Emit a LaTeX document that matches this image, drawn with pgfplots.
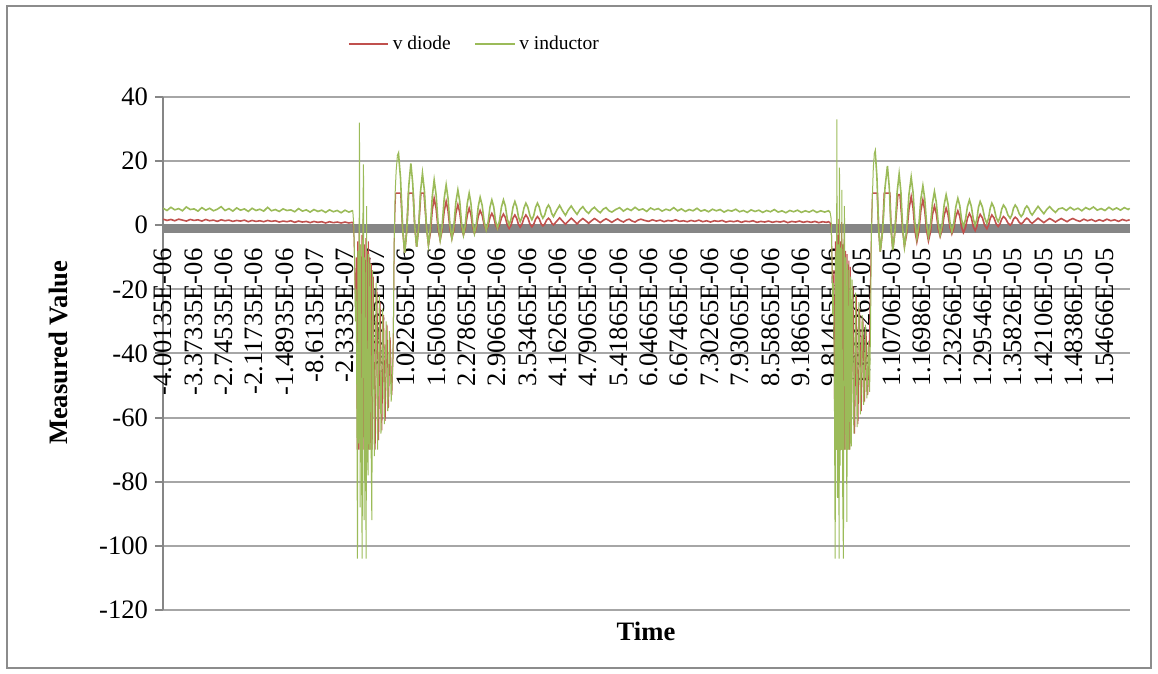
\documentclass[border=0pt]{standalone}
\usepackage{fontspec}
\setmainfont{Liberation Serif}
\usepackage{pgfplots}
\pgfplotsset{compat=1.18}
\definecolor{vred}{HTML}{C0504D}
\definecolor{vgreen}{HTML}{9BBB59}
\definecolor{gridgray}{HTML}{A6A6A6}
\definecolor{axisgray}{HTML}{868686}
\definecolor{framegray}{HTML}{8C8C8C}
\begin{document}
\begin{tikzpicture}
\path[use as bounding box] (0pt,0pt) rectangle (579pt,337pt);
\draw[framegray, line width=1pt] (3.5pt,3pt) rectangle (575.5pt,334pt);
\begin{axis}[
  at={(81.5pt,32pt)}, anchor=south west,
  scale only axis, width=483.5pt, height=256.5pt,
  xmin=-4.0034, xmax=15.9967, ymin=-120, ymax=40,
  axis x line=middle, axis y line=left,
  axis line style={-, draw=axisgray, line width=1pt},
  ytick={-120,-100,-80,-60,-40,-20,0,20,40},
  ymajorgrids, grid style={gridgray, line width=1pt},
  tick align=outside, major tick length=4pt,
  ytick style={axisgray, line width=1pt},
  xtick style={draw=none},
  xtick={-4.00135,-3.37335,-2.74535,-2.11735,-1.48935,-0.86135,-0.23335,0.39465,1.02265,1.65065,2.27865,2.90665,3.53465,4.16265,4.79065,5.41865,6.04665,6.67465,7.30265,7.93065,8.55865,9.18665,9.81465,10.44265,11.07065,11.69865,12.32665,12.95465,13.58265,14.21065,14.83865,15.46665},
  xticklabels={-4.00135E-06,-3.37335E-06,-2.74535E-06,-2.11735E-06,-1.48935E-06,-8.6135E-07,-2.3335E-07,3.9465E-07,1.02265E-06,1.65065E-06,2.27865E-06,2.90665E-06,3.53465E-06,4.16265E-06,4.79065E-06,5.41865E-06,6.04665E-06,6.67465E-06,7.30265E-06,7.93065E-06,8.55865E-06,9.18665E-06,9.81465E-06,1.04426E-05,1.10706E-05,1.16986E-05,1.23266E-05,1.29546E-05,1.35826E-05,1.42106E-05,1.48386E-05,1.54666E-05},
  xticklabel shift=7.5pt,
  xticklabel style={rotate=90, anchor=east, inner sep=0pt, font=\fontsize{13.3}{16}\selectfont},
  yticklabel style={font=\fontsize{13.3}{16}\selectfont},
  /pgf/number format/assume math mode=true,
  xlabel={Time}, ylabel={Measured Value},
  xlabel style={at={(axis description cs:0.4995,-0.0409)}, anchor=center, font=\bfseries\fontsize{13.3}{16}\selectfont},
  ylabel style={at={(axis description cs:-0.1086,0.501)}, anchor=center, font=\bfseries\fontsize{13.3}{16}\selectfont},
  legend style={at={(axis description cs:0.3232,1.1033)}, anchor=center, draw=none, fill=none, legend columns=2, font=\fontsize{9.75}{12}\selectfont, /tikz/every even column/.append style={column sep=10pt}},
]
\fill[axisgray] (axis cs:-4.0034,0.3) rectangle (axis cs:15.9967,-2.3);
\addlegendimage{legend image code/.code={\draw[vred, line width=0.8pt] (0pt,0pt) -- (19.5pt,0pt);}}
\addlegendentry{v diode}
\addlegendimage{legend image code/.code={\draw[vgreen, line width=0.8pt] (0pt,0pt) -- (19.5pt,0pt);}}
\addlegendentry{v inductor}
% ---------------- v diode ----------------
\addplot[vred, line width=0.8pt, forget plot] coordinates {
(-4.00,1.9) (-3.92,1.5) (-3.84,1.8) (-3.76,1.4) (-3.68,1.9) (-3.60,1.6) (-3.52,1.3) (-3.44,1.8) (-3.36,1.5) (-3.28,1.7)
(-3.20,1.3) (-3.12,1.8) (-3.04,1.4) (-2.96,1.6) (-2.88,1.2) (-2.80,1.7) (-2.72,1.4) (-2.64,1.6) (-2.56,1.2) (-2.48,1.5)
(-2.40,1.3) (-2.32,1.6) (-2.24,1.1) (-2.16,1.5) (-2.08,1.2) (-2.00,1.4) (-1.92,1.1) (-1.84,1.5) (-1.76,1.2) (-1.68,1.4)
(-1.60,1.0) (-1.52,1.3) (-1.44,1.1) (-1.36,1.4) (-1.28,0.9) (-1.20,1.3) (-1.12,1.0) (-1.04,1.2) (-0.96,0.8) (-0.88,1.2)
(-0.80,0.9) (-0.72,1.1) (-0.64,0.7) (-0.56,1.1) (-0.48,0.8) (-0.40,1.0) (-0.32,0.7) (-0.24,1.0) (-0.16,0.7) (-0.09,0.9)
(-0.077,0.9)
};
\addplot[vred, line width=0.5pt, forget plot] coordinates {
(-0.077,0.9) (-0.054,-3) (-0.035,-15) (-0.019,-28) (-0.002,-10) (0.012,-70) (0.023,-5) (0.037,-70) (0.054,-2) (0.068,-70)
(0.081,-8) (0.095,-70) (0.110,-3) (0.122,-70) (0.136,2) (0.151,-70) (0.163,-6) (0.178,-70) (0.192,-4) (0.205,-70)
(0.219,-8) (0.232,-70) (0.246,-5) (0.261,-70) (0.277,-10) (0.294,-70) (0.308,-12) (0.323,-70) (0.347,-16) (0.385,-70)
(0.422,-20) (0.457,-67) (0.488,-24) (0.523,-64) (0.558,-28) (0.592,-61) (0.629,-31) (0.660,-57) (0.695,-35) (0.730,-53)
(0.757,-40) (0.778,-6) (0.798,6) (0.811,10)
};
\addplot[vred, line width=0.8pt, forget plot] coordinates {
(0.811,10)
(0.915,10) (0.952,-0.8) (0.995,-8.6) (1.038,-1.6) (1.075,10) (1.170,10) (1.203,-0.2) (1.243,-6.7) (1.283,-1.0) (1.330,10)
(1.395,10) (1.446,-0.5) (1.487,-6.1) (1.526,-2.5) (1.566,4.8) (1.605,8.4) (1.646,5.2) (1.688,-1.4) (1.729,-4.6) (1.770,-1.6)
(1.812,4.4) (1.853,7.4) (1.892,4.5) (1.932,-1.2) (1.971,-4.1) (2.012,-1.5) (2.054,3.8) (2.095,6.4) (2.134,4.0) (2.172,-0.6)
(2.211,-3.0) (2.250,-0.9) (2.290,3.2) (2.329,5.3) (2.365,3.4) (2.402,-0.6) (2.438,-2.5) (2.477,-0.7) (2.517,2.8) (2.556,4.6)
(2.598,3.1) (2.640,0.0) (2.681,-1.5) (2.720,-0.2) (2.759,2.4) (2.798,3.7) (2.837,2.5) (2.875,0.0) (2.914,-1.2) (2.955,0.0)
(2.997,2.3) (3.038,3.5) (3.077,2.4) (3.117,0.1) (3.156,-1.0) (3.195,0.0) (3.235,2.2) (3.274,3.2) (3.311,2.2) (3.347,0.3)
(3.384,-0.6) (3.423,0.4) (3.463,2.2) (3.502,3.2) (3.543,2.3) (3.585,0.4) (3.626,-0.5) (3.664,0.3) (3.703,1.9) (3.741,2.7)
(3.778,2.0) (3.816,0.5) (3.853,-0.2) (3.892,0.4) (3.930,1.6) (3.969,2.2) (4.003,1.7) (4.038,0.6) (4.072,0.1) (4.136,1.2)
(4.20,2.3) (4.26,1.3) (4.32,0.3) (4.38,1.3) (4.44,2.2) (4.50,1.4) (4.56,0.4) (4.62,1.4) (4.68,2.1) (4.74,1.4)
(4.80,0.6) (4.86,1.4) (4.92,2.1) (4.98,1.5) (5.04,0.8) (5.10,1.5) (5.16,2.0) (5.22,1.5) (5.28,0.9) (5.34,1.5)
(5.40,2.0) (5.46,1.4) (5.52,1.0) (5.58,1.6) (5.64,1.9) (5.70,1.3) (5.76,1.0) (5.82,1.6) (5.88,1.9)
(5.96,1.5) (6.04,1.2) (6.12,1.7) (6.20,1.3) (6.28,1.6) (6.36,1.1) (6.44,1.5) (6.52,1.3) (6.60,1.7) (6.68,1.2)
(6.76,1.4) (6.84,1.1) (6.92,1.5) (7.00,1.2) (7.08,1.6) (7.16,1.1) (7.24,1.4) (7.32,1.0) (7.40,1.4) (7.48,1.2)
(7.56,1.5) (7.64,1.0) (7.72,1.3) (7.80,1.1) (7.88,1.4) (7.96,0.9) (8.04,1.3) (8.12,1.1) (8.20,1.4) (8.28,0.9)
(8.36,1.2) (8.44,1.0) (8.52,1.3) (8.60,0.9) (8.68,1.2) (8.76,1.0) (8.84,1.3) (8.92,0.8) (9.00,1.2) (9.08,1.0)
(9.16,1.3) (9.24,0.9) (9.32,1.2) (9.40,0.9) (9.48,1.2) (9.56,0.8) (9.64,1.1) (9.72,0.9) (9.76,1.1) (9.799,0.7)
};
\addplot[vred, line width=0.5pt, forget plot] coordinates {
(9.799,0.7) (9.820,-1) (9.836,-12) (9.853,-26) (9.872,-14) (9.890,-70) (9.905,-5) (9.918,-70) (9.930,4) (9.940,-70)
(9.953,-3) (9.965,-70) (9.978,2) (9.994,-70) (10.009,-5) (10.021,-70) (10.034,1) (10.046,-70) (10.060,-6) (10.075,-70)
(10.087,-2) (10.100,-70) (10.114,-8) (10.131,-70) (10.147,-9) (10.164,-70) (10.180,-11) (10.197,-70) (10.213,-13) (10.230,-68)
(10.267,-19) (10.302,-65) (10.337,-22) (10.370,-62) (10.405,-26) (10.440,-58) (10.473,-29) (10.506,-55) (10.539,-33) (10.572,-53)
(10.601,-40) (10.638,-10) (10.655,2) (10.669,10)
};
\addplot[vred, line width=0.8pt, forget plot] coordinates {
(10.669,10) (10.770,10)
(10.796,-0.4) (10.831,-8.2) (10.881,-1.5) (10.915,10) (11.030,10) (11.055,-1.2) (11.092,-7.7) (11.135,-1.8) (11.195,9.5) (11.240,9.5)
(11.295,-1.5) (11.332,-6.5) (11.378,-2.7) (11.425,5.0) (11.471,8.9) (11.510,5.4) (11.549,-1.7) (11.588,-5.2) (11.630,-1.9) (11.671,4.6)
(11.713,7.9) (11.751,4.7) (11.790,-1.7) (11.828,-4.9) (11.869,-2.2) (11.911,3.3) (11.952,6.0) (11.991,3.6) (12.031,-1.1) (12.070,-3.5)
(12.111,-1.3) (12.153,3.1) (12.194,5.3) (12.233,3.3) (12.273,-0.7) (12.312,-2.7) (12.353,-0.9) (12.395,2.7) (12.436,4.5) (12.475,2.8)
(12.513,-0.6) (12.552,-2.3) (12.593,-0.8) (12.635,2.2) (12.676,3.7) (12.715,2.4) (12.755,-0.4) (12.794,-1.7) (12.829,-0.4) (12.863,2.1)
(12.898,3.4) (12.944,2.3) (12.990,0.0) (13.036,-1.1) (13.071,0.0) (13.105,2.1) (13.140,3.2) (13.183,2.3) (13.227,0.5) (13.270,-0.4)
(13.307,0.4) (13.343,1.9) (13.380,2.7) (13.426,2.0) (13.472,0.7) (13.518,0.0) (13.553,0.6) (13.587,1.9) (13.622,2.5) (13.663,2.0)
(13.705,0.9) (13.746,0.4) (13.785,0.9) (13.824,1.7) (13.863,2.2) (13.900,1.8) (13.936,1.0) (13.973,0.6) (14.035,1.4) (14.095,2.2)
(14.155,1.5) (14.215,0.8) (14.275,1.5) (14.335,2.1) (14.395,1.6) (14.455,1.0) (14.515,1.6) (14.575,2.1) (14.635,1.6) (14.695,1.1)
(14.755,1.7) (14.815,2.1) (14.88,1.6) (14.96,1.2) (15.04,1.9) (15.12,1.4) (15.20,1.8) (15.28,1.2) (15.36,1.7) (15.44,1.3)
(15.52,1.9) (15.60,1.4) (15.68,1.7) (15.76,1.2) (15.84,1.8) (15.92,1.4) (15.99,1.7)
};
% ---------------- v inductor ----------------
\addplot[vgreen, line width=0.8pt, forget plot] coordinates {
(-4.00,5.3) (-3.92,4.6) (-3.84,5.6) (-3.76,4.8) (-3.68,5.2) (-3.60,4.5) (-3.52,5.7) (-3.44,4.9) (-3.36,5.1) (-3.28,4.4)
(-3.20,5.5) (-3.12,4.7) (-3.04,5.3) (-2.96,4.5) (-2.88,5.0) (-2.80,5.8) (-2.72,4.6) (-2.64,5.2) (-2.56,4.4) (-2.48,5.4)
(-2.40,4.7) (-2.32,5.1) (-2.24,4.3) (-2.16,5.3) (-2.08,4.6) (-2.00,5.0) (-1.92,4.4) (-1.84,5.6) (-1.76,4.5) (-1.68,4.9)
(-1.60,4.3) (-1.52,5.1) (-1.44,4.6) (-1.36,4.8) (-1.28,4.2) (-1.20,5.2) (-1.12,4.4) (-1.04,4.8) (-0.96,4.1) (-0.88,4.9)
(-0.80,4.3) (-0.72,4.7) (-0.64,4.0) (-0.56,4.8) (-0.48,4.2) (-0.40,4.6) (-0.32,3.9) (-0.24,4.7) (-0.16,4.1) (-0.09,4.5)
(-0.077,4.3)
};
\addplot[vgreen, line width=0.5pt, forget plot] coordinates {
(-0.077,4.3) (-0.058,0) (-0.039,-12) (-0.023,-30) (-0.008,-20) (0.006,-55) (0.019,-104) (0.029,-8) (0.045,-68) (0.060,32)
(0.074,-88) (0.087,-6) (0.101,-70) (0.116,-104) (0.128,-4) (0.143,19) (0.157,-92) (0.170,-10) (0.184,-69) (0.199,-104)
(0.207,6) (0.223,-70) (0.240,-78) (0.252,-9) (0.269,-70) (0.285,-12) (0.302,-70) (0.316,-92) (0.333,-14) (0.368,-72)
(0.405,-18) (0.436,-70) (0.472,-22) (0.505,-65) (0.540,-26) (0.575,-62) (0.612,-30) (0.645,-58) (0.680,-33) (0.716,-55)
(0.747,-44) (0.763,-30) (0.778,-5) (0.798,10) (0.819,17) (0.844,21.5)
};
\addplot[vgreen, line width=0.8pt, forget plot] coordinates {
(0.844,21.5)
(0.867,22.4) (0.910,14.6) (0.952,-0.8) (0.995,-8.6) (1.038,-1.6) (1.080,12.3) (1.123,19.3) (1.163,12.8) (1.203,-0.2) (1.243,-6.7)
(1.283,-1.0) (1.323,10.5) (1.363,16.2) (1.404,10.6) (1.446,-0.5) (1.487,-6.1) (1.526,-1.0) (1.566,9.0) (1.605,14.1) (1.646,9.4)
(1.688,0.1) (1.729,-4.6) (1.770,-0.3) (1.812,8.3) (1.853,12.6) (1.892,8.4) (1.932,0.1) (1.971,-4.1) (2.012,-0.3) (2.054,7.2)
(2.095,11.0) (2.134,7.5) (2.172,0.5) (2.211,-3.0) (2.250,0.3) (2.290,6.8) (2.329,10.0) (2.365,6.9) (2.402,0.6) (2.438,-2.5)
(2.477,0.3) (2.517,5.9) (2.556,8.7) (2.598,6.2) (2.640,1.0) (2.681,-1.5) (2.720,0.9) (2.759,5.6) (2.798,7.9) (2.837,5.7)
(2.875,1.3) (2.914,-0.9) (2.955,1.3) (2.997,5.7) (3.038,7.9) (3.077,6.0) (3.117,2.0) (3.156,0.1) (3.195,1.9) (3.235,5.6)
(3.274,7.4) (3.311,5.8) (3.347,2.7) (3.384,1.1) (3.423,2.5) (3.463,5.4) (3.502,6.9) (3.543,5.6) (3.585,3.0) (3.626,1.7)
(3.664,3.0) (3.703,5.6) (3.741,6.9) (3.778,5.7) (3.816,3.4) (3.853,2.2) (3.892,3.2) (3.930,5.3) (3.969,6.3) (4.003,5.4)
(4.038,3.6) (4.072,2.7) (4.136,4.6) (4.20,6.2) (4.26,4.5) (4.32,3.1) (4.38,4.8) (4.44,6.0) (4.50,4.6) (4.56,3.4)
(4.62,4.9) (4.68,5.8) (4.74,4.5) (4.80,3.7) (4.86,4.9) (4.92,5.6) (4.98,4.6) (5.04,3.9) (5.10,5.0) (5.16,5.5)
(5.22,4.5) (5.28,4.1)
(5.36,4.9) (5.44,5.5) (5.52,4.4) (5.60,5.2) (5.68,4.6) (5.76,5.6) (5.84,4.7) (5.92,5.1) (6.00,4.3) (6.08,5.4)
(6.16,4.8) (6.24,5.2) (6.32,4.4) (6.40,5.0) (6.48,4.6) (6.56,5.5) (6.64,4.5) (6.72,5.1) (6.80,4.3) (6.88,4.9)
(6.96,4.5) (7.04,5.3) (7.12,4.4) (7.20,4.8) (7.28,4.2) (7.36,5.0) (7.44,4.5) (7.52,4.9) (7.60,4.1) (7.68,4.7)
(7.76,4.4) (7.84,5.0) (7.92,4.2) (8.00,4.6) (8.08,4.0) (8.16,4.8) (8.24,4.3) (8.32,4.7) (8.40,4.0) (8.48,4.6)
(8.56,4.2) (8.64,4.9) (8.72,4.1) (8.80,4.5) (8.88,3.9) (8.96,4.6) (9.04,4.2) (9.12,4.7) (9.20,4.0) (9.28,4.5)
(9.36,4.1) (9.44,4.7) (9.52,4.0) (9.60,4.5) (9.68,4.1) (9.76,4.5) (9.795,4.0)
};
\addplot[vgreen, line width=0.5pt, forget plot] coordinates {
(9.795,4.0) (9.816,2) (9.832,-10) (9.849,-28) (9.866,-18) (9.884,-55) (9.899,-104) (9.911,-8) (9.924,-70) (9.934,33)
(9.947,-85) (9.959,-6) (9.972,-70) (9.982,-104) (9.988,18) (10.003,-75) (10.015,-7) (10.027,-70) (10.037,11) (10.052,-80)
(10.070,-104) (10.081,-6) (10.091,6) (10.106,-70) (10.122,-10) (10.141,-92.5) (10.155,-12) (10.172,-70) (10.188,-14) (10.205,-70)
(10.219,-16) (10.234,-69) (10.250,-17) (10.285,-65) (10.320,-21) (10.353,-63) (10.388,-24) (10.421,-59) (10.456,-28) (10.489,-56)
(10.522,-31) (10.555,-54) (10.586,-36) (10.611,-52) (10.632,-30) (10.646,-5) (10.667,8) (10.688,18) (10.708,22)
};
\addplot[vgreen, line width=0.8pt, forget plot] coordinates {
(10.708,22)
(10.727,23) (10.762,15.2) (10.796,-0.4) (10.831,-8.2) (10.881,-1.5) (10.930,11.8) (10.980,18.5) (11.017,12.0) (11.055,-1.2)
(11.092,-7.7) (11.135,-1.8) (11.179,10.1) (11.222,16) (11.259,10.3) (11.295,-1.0) (11.332,-6.7) (11.378,-1.3) (11.425,9.6) (11.471,15)
(11.510,10.2) (11.549,0.8) (11.588,-4) (11.630,0.1) (11.671,8.2) (11.713,12.3) (11.751,8.3) (11.790,0.4) (11.828,-3.6) (11.869,-0.1)
(11.911,7.0) (11.952,10.5) (11.991,7.1) (12.031,0.4) (12.070,-3) (12.111,0.1) (12.153,6.4) (12.194,9.5) (12.233,6.6) (12.273,0.9)
(12.312,-2) (12.353,0.6) (12.395,5.8) (12.436,8.4) (12.475,6.2) (12.513,1.8) (12.552,-0.4) (12.593,1.7) (12.635,5.8) (12.676,7.9)
(12.715,5.9) (12.755,2.0) (12.794,0) (12.829,1.9) (12.863,5.6) (12.898,7.4) (12.944,5.7) (12.990,2.3) (13.036,0.6) (13.071,2.2)
(13.105,5.3) (13.140,6.9) (13.183,5.5) (13.227,2.5) (13.270,1.1) (13.307,2.4) (13.343,5.0) (13.380,6.3) (13.426,5.3) (13.472,3.2)
(13.518,2.2) (13.553,3.2) (13.587,5.3) (13.622,6.3) (13.663,5.4) (13.705,3.6) (13.746,2.7) (13.785,3.5) (13.824,5.2) (13.863,6.0)
(13.900,5.3) (13.936,3.9) (13.973,3.2) (14.035,4.6) (14.095,5.9) (14.155,4.7) (14.215,3.6) (14.275,4.9) (14.335,5.8) (14.395,4.8)
(14.455,4.0) (14.52,5.1)
(14.60,5.4) (14.68,4.6) (14.76,5.6) (14.84,4.8) (14.92,5.3) (15.00,4.5) (15.08,5.5) (15.16,4.9) (15.24,5.7) (15.32,4.7)
(15.40,5.2) (15.48,4.6) (15.56,5.6) (15.64,4.8) (15.72,5.4) (15.80,4.7) (15.88,5.5) (15.96,4.9) (15.99,5.3)
};
\end{axis}
\end{tikzpicture}
\end{document}
